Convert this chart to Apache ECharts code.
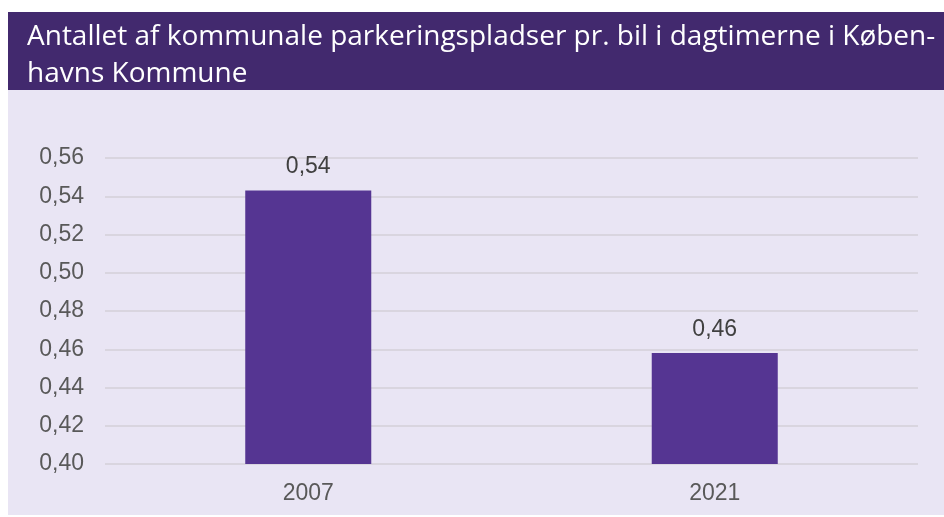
<!DOCTYPE html>
<html>
<head>
<meta charset="utf-8">
<script src="https://cdn.jsdelivr.net/npm/echarts@6/dist/echarts.min.js"></script>
<style>
  html, body { margin: 0; padding: 0; background: #ffffff; }
  #chart { width: 944px; height: 517px; }
</style>
</head>
<body>
<div id="chart"></div>
<script>
// data
const years = ['2007', '2021']
const pladserPrBil = [0.543, 0.458]
const yTicks = [0.40, 0.42, 0.44, 0.46, 0.48, 0.50, 0.52, 0.54, 0.56]

const fmt = v => v.toFixed(2).replace('.', ',')

const myChart = echarts.init(document.getElementById('chart'))

const option = {
  backgroundColor: '#ffffff',
  animation: false,
  graphic: [
    // lys baggrund
    { type: 'rect', z: -10, shape: { x: 8, y: 90, width: 936, height: 425 }, style: { fill: '#e9e5f4' } },
    // titel-banner
    { type: 'rect', z: -10, shape: { x: 8, y: 12, width: 936, height: 78 }, style: { fill: '#42296e' } }
  ],
  title: {
    text: 'Antallet af kommunale parkeringspladser pr. bil i dagtimerne i Køben-\nhavns Kommune',
    left: 22,
    top: 14,
    textStyle: {
      color: '#ffffff',
      fontFamily: 'Open Sans',
      fontSize: 28,
      fontWeight: 'normal',
      lineHeight: 37
    }
  },
  grid: { left: 105, right: 26, top: 158, bottom: 53 },
  xAxis: {
    type: 'category',
    data: years,
    axisLine: { show: false },
    axisTick: { show: false },
    axisLabel: { color: '#595959', fontSize: 23, fontFamily: 'Liberation Sans', margin: 18 }
  },
  yAxis: {
    type: 'value',
    min: yTicks[0],
    max: yTicks[yTicks.length - 1],
    interval: 0.02,
    axisLine: { show: false },
    axisTick: { show: false },
    splitLine: { lineStyle: { color: '#d9d5df', width: 2 } },
    axisLabel: {
      color: '#595959',
      fontSize: 23,
      fontFamily: 'Liberation Sans',
      margin: 21,
      formatter: v => fmt(v)
    }
  },
  series: [
    {
      type: 'bar',
      data: pladserPrBil,
      barWidth: '31%',
      itemStyle: { color: '#553592' },
      label: {
        show: true,
        position: 'top',
        distance: 12,
        color: '#404040',
        fontSize: 23,
        fontFamily: 'Liberation Sans',
        formatter: p => fmt(p.value)
      }
    }
  ]
}

myChart.setOption(option)
</script>
</body>
</html>
